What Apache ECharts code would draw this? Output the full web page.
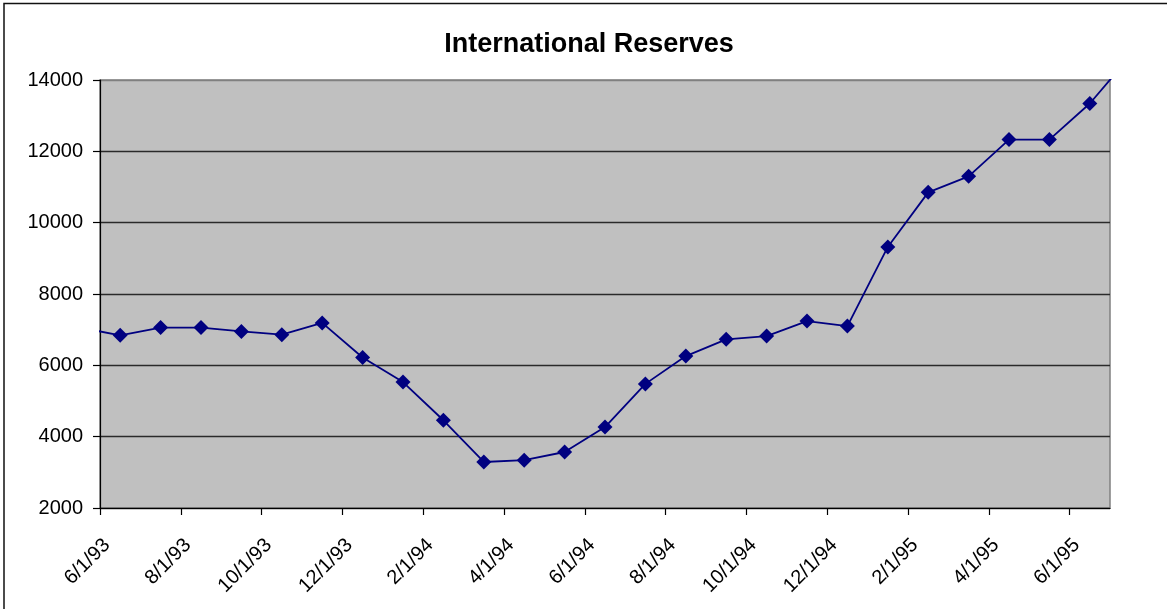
<!DOCTYPE html>
<html>
<head>
<meta charset="utf-8">
<script src="https://cdn.jsdelivr.net/npm/echarts@6/dist/echarts.min.js"></script>
<style>
html,body{margin:0;padding:0;background:#fff;}
#chart{width:1167px;height:609px;}
</style>
</head>
<body>
<div id="chart"></div>
<script>
// Month slots (Excel date axis, base unit = month); first and last lie outside the plotted range
const months = ["5/93","6/93","7/93","8/93","9/93","10/93","11/93","12/93",
  "1/94","2/94","3/94","4/94","5/94","6/94","7/94","8/94","9/94","10/94","11/94","12/94",
  "1/95","2/95","3/95","4/95","5/95","6/95","7/95"];
const reserves = [7060, 6840, 7060, 7060, 6950, 6860, 7190, 6220,
  5530, 4460, 3290, 3340, 3570, 4270, 5480, 6260, 6730, 6820, 7240, 7100,
  9320, 10850, 11300, 12330, 12330, 13340, 14670];
const tickLabels = ["6/1/93","8/1/93","10/1/93","12/1/93","2/1/94","4/1/94","6/1/94",
  "8/1/94","10/1/94","12/1/94","2/1/95","4/1/95","6/1/95"];
const yTicks = [2000, 4000, 6000, 8000, 10000, 12000, 14000];

const FONT = "'Liberation Sans', Arial, sans-serif";
// x value: month slot index relative to 6/93 (slot centre = index + 0.5)
const seriesData = reserves.map((v, i) => [i - 1 + 0.5, v]);
const tickPos = tickLabels.map((_, i) => i * 2);

const chart = echarts.init(document.getElementById('chart'), null, {renderer: 'canvas'});
chart.setOption({
  animation: false,
  backgroundColor: '#ffffff',
  graphic: [{
    type: 'rect', silent: true, z: 100,
    shape: {x: 4, y: 3.5, width: 1300, height: 800},
    style: {fill: 'none', stroke: '#111', lineWidth: 1.5}
  }],
  title: {
    text: 'International Reserves',
    left: 584, top: 26, textAlign: 'center',
    textStyle: {fontFamily: FONT, fontSize: 27, fontWeight: 'bold', color: '#000'}
  },
  grid: {
    left: 100, top: 80, right: 57, bottom: 101,
    show: true, backgroundColor: '#C0C0C0', borderColor: '#808080', borderWidth: 1.5
  },
  xAxis: {
    type: 'value', min: 0, max: 25, interval: 2,
    axisLine: {show: true, onZero: false, lineStyle: {color: '#000', width: 1.2}},
    axisTick: {show: true, length: 7, customValues: tickPos, lineStyle: {color: '#000', width: 1.2}},
    axisLabel: {
      customValues: tickPos,
      rotate: 45, margin: 27, verticalAlign: 'top',
      fontFamily: FONT, fontSize: 20, color: '#000',
      formatter: v => tickLabels[Math.round(v / 2)] || ''
    },
    splitLine: {show: false}
  },
  yAxis: {
    type: 'value', min: yTicks[0], max: yTicks[yTicks.length - 1], interval: 2000,
    axisLine: {show: true, lineStyle: {color: '#000', width: 1.2}},
    axisTick: {show: true, length: 7, lineStyle: {color: '#000', width: 1.2}},
    axisLabel: {margin: 17, fontFamily: FONT, fontSize: 20, color: '#000',
      formatter: v => String(v)},
    splitLine: {show: true, lineStyle: {
      color: ['#2a2a2a', '#2a2a2a', '#2a2a2a', '#2a2a2a', '#2a2a2a', '#2a2a2a', '#808080'], width: 1.3}}
  },
  series: [{
    type: 'line',
    data: seriesData,
    clip: true,
    symbol: 'diamond',
    symbolSize: 15,
    showAllSymbol: true,
    lineStyle: {color: '#000080', width: 1.8},
    itemStyle: {color: '#000080'}
  }]
});
</script>
</body>
</html>
